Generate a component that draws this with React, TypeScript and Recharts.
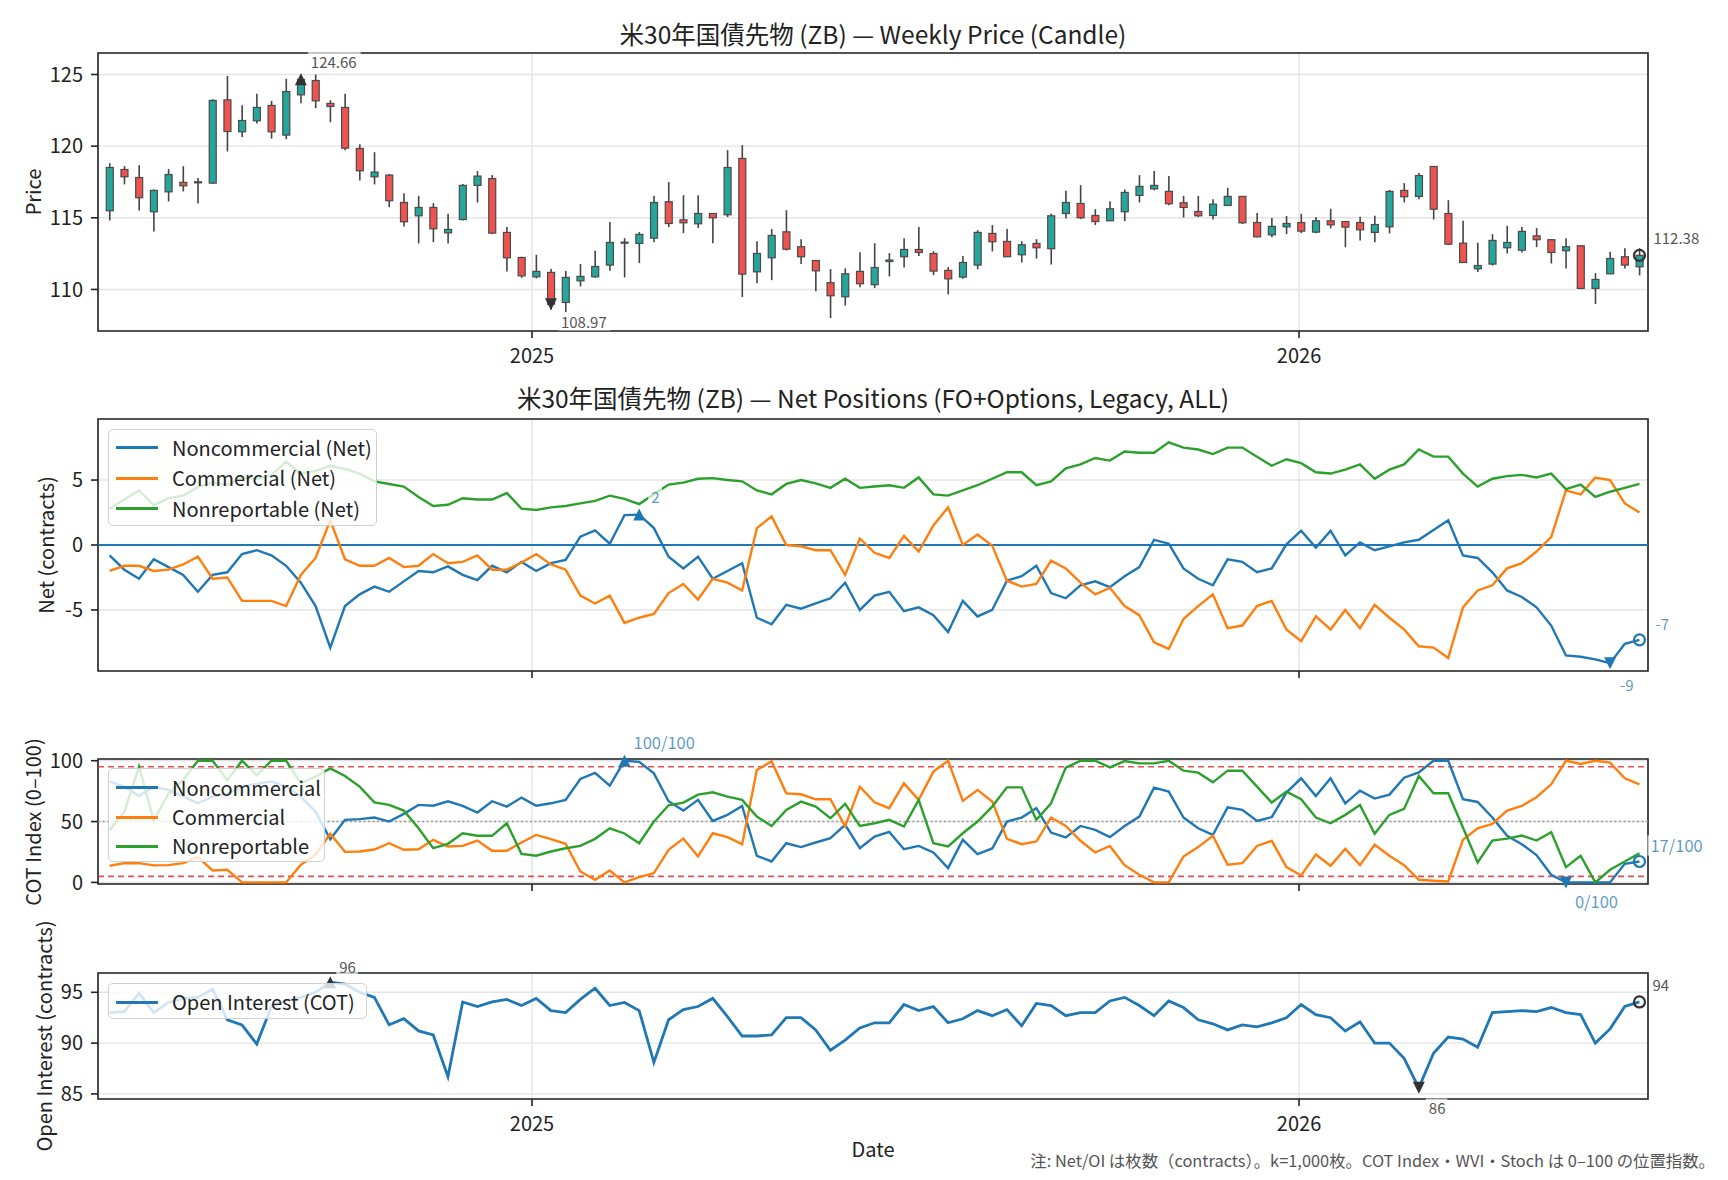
import React from "react";
import {
  ComposedChart,
  Line,
  Bar,
  XAxis,
  YAxis,
  CartesianGrid,
  ReferenceLine,
  ReferenceDot,
  ReferenceArea,
} from "recharts";

const FONT = "'Noto Sans CJK JP', 'Noto Sans', sans-serif";
const WEEK = 7 * 24 * 3600 * 1000;
const START = Date.UTC(2024, 5, 14);

// weekly OHLC
const opens = [
  115.49, 118.37, 117.81, 115.42, 116.81, 117.47, 117.47, 117.42, 123.23, 121.0,
  121.77, 122.84, 120.77, 123.58, 124.58, 122.98, 122.7, 119.84, 117.86, 117.98,
  116.07, 115.14, 115.72, 113.95, 114.88, 117.26, 117.74, 113.98, 112.23, 110.88,
  111.19, 109.09, 110.6, 110.88, 111.7, 113.23, 113.21, 113.58, 116.12, 114.86,
  114.58, 115.3, 115.21, 119.14, 111.23, 112.21, 114.02, 112.98, 112.02, 110.47,
  109.49, 111.26, 110.33, 111.95, 112.28, 112.79, 112.51, 111.33, 110.86, 111.7,
  113.91, 113.35, 112.42, 113.21, 112.84, 115.3, 116.0, 115.16, 114.79, 115.42,
  116.56, 117.02, 116.84, 116.05, 115.44, 115.16, 115.86, 116.49, 114.67, 113.81,
  114.37, 114.67, 114.0, 114.79, 114.74, 114.67, 113.98, 114.37, 116.91, 116.49,
  118.58, 115.3, 113.23, 111.44, 111.77, 112.91, 112.74, 113.74, 113.47, 112.7,
  113.05, 110.07, 111.09, 112.28, 111.58,
];
const highs = [
  118.81, 118.6, 118.67, 116.98, 118.4, 118.6, 117.77, 123.28, 124.9, 122.86,
  123.65, 123.16, 124.7, 125.0, 125.0, 123.21, 123.65, 120.14, 119.58, 118.05,
  116.72, 116.53, 116.02, 115.28, 117.35, 118.26, 117.98, 114.35, 112.28, 112.42,
  111.42, 111.3, 111.77, 112.7, 114.7, 113.58, 114.0, 116.53, 117.49, 116.58,
  116.58, 115.33, 119.72, 120.07, 113.37, 114.21, 115.53, 113.51, 112.05, 111.42,
  111.47, 112.6, 113.23, 112.53, 113.58, 114.35, 112.67, 111.56, 112.33, 114.14,
  114.49, 114.21, 113.37, 113.51, 115.3, 116.88, 117.28, 115.6, 116.16, 116.98,
  117.98, 118.26, 117.91, 116.53, 116.53, 116.3, 117.09, 116.5, 115.33, 114.98,
  115.12, 115.28, 115.05, 115.63, 114.76, 115.07, 115.14, 116.95, 117.42, 118.12,
  118.6, 116.23, 114.79, 113.26, 113.86, 114.44, 114.35, 114.28, 113.5, 113.58,
  113.07, 111.14, 112.63, 112.88, 112.88,
];
const lows = [
  114.81, 117.33, 115.51, 114.05, 116.14, 116.84, 116.0, 117.37, 119.63, 120.63,
  121.58, 120.53, 120.49, 123.0, 122.65, 121.67, 119.72, 117.6, 117.33, 115.74,
  114.4, 113.21, 113.3, 113.21, 114.81, 116.07, 113.86, 111.26, 110.81, 110.77,
  108.6, 108.4, 110.21, 110.81, 111.3, 110.84, 111.84, 113.3, 114.35, 113.93,
  114.28, 113.23, 115.05, 109.47, 110.44, 110.65, 112.72, 111.77, 109.88, 108.0,
  108.88, 110.16, 110.09, 110.91, 111.53, 112.33, 111.0, 109.65, 110.74, 111.4,
  112.65, 112.26, 111.88, 112.16, 111.74, 114.95, 114.91, 114.49, 114.77, 114.77,
  116.07, 116.93, 115.88, 115.02, 115.05, 114.88, 115.84, 114.56, 113.65, 113.65,
  113.86, 113.93, 113.93, 114.26, 112.95, 113.42, 113.3, 113.91, 116.07, 116.3,
  114.88, 113.09, 111.86, 111.21, 111.67, 112.51, 112.58, 112.95, 111.81, 111.47,
  110.02, 108.98, 111.07, 111.47, 110.98,
];
const closes = [
  118.51, 117.86, 116.4, 116.91, 118.02, 117.23, 117.51, 123.19, 121.02, 121.79,
  122.7, 121.0, 123.81, 124.66, 123.16, 122.77, 119.86, 118.28, 118.19, 116.19,
  114.72, 115.72, 114.23, 114.19, 117.26, 117.91, 113.93, 112.21, 110.95, 111.26,
  108.97, 110.84, 110.91, 111.6, 113.28, 113.3, 113.84, 116.07, 114.6, 114.65,
  115.3, 115.0, 118.51, 111.07, 112.51, 113.77, 112.81, 112.28, 111.3, 109.56,
  111.09, 110.4, 111.53, 112.05, 112.79, 112.58, 111.28, 110.74, 111.88, 113.98,
  113.33, 112.28, 113.12, 112.91, 115.14, 116.07, 115.0, 114.74, 115.63, 116.77,
  117.19, 117.26, 115.98, 115.72, 115.14, 115.95, 116.49, 114.65, 113.67, 114.4,
  114.6, 114.07, 114.79, 114.51, 114.35, 114.16, 114.53, 116.84, 116.47, 117.95,
  115.6, 113.16, 111.88, 111.67, 113.42, 113.28, 114.05, 113.47, 112.58, 112.98,
  110.07, 110.7, 112.16, 111.7, 112.38,
];

// net positions (k contracts)
const ncNet = [
  -0.8, -1.9, -2.6, -1.1, -1.7, -2.3, -3.6, -2.3, -2.1, -0.7,
  -0.4, -0.8, -1.6, -2.9, -4.7, -7.9, -4.7, -3.8, -3.2, -3.6,
  -2.8, -2.0, -2.1, -1.65, -2.3, -2.7, -1.6, -2.1, -1.3, -2.0,
  -1.4, -1.15, 0.64, 1.12, 0.1, 2.3, 2.34, 1.3, -0.9, -1.8,
  -0.9, -2.6, -2.0, -1.4, -5.6, -6.1, -4.6, -4.9, -4.5, -4.1,
  -2.9, -5.0, -3.9, -3.6, -5.1, -4.8, -5.4, -6.7, -4.3, -5.5,
  -5.0, -2.75, -2.4, -1.6, -3.7, -4.1, -3.1, -2.8, -3.25, -2.4,
  -1.7, 0.4, 0.1, -1.8, -2.6, -3.1, -1.1, -1.3, -2.1, -1.8,
  0.05, 1.1, -0.2, 1.1, -0.8, 0.2, -0.4, -0.1, 0.2, 0.4,
  1.15, 1.9, -0.8, -1.0, -2.1, -3.5, -4.0, -4.8, -6.2, -8.5,
  -8.6, -8.8, -9.1, -7.6, -7.3,
];
const cNet = [
  -2.0, -1.6, -1.6, -2.0, -1.9, -1.5, -0.9, -2.6, -2.5, -4.3,
  -4.3, -4.3, -4.7, -2.3, -1.0, 1.9, -1.1, -1.6, -1.6, -1.0,
  -1.7, -1.6, -0.7, -1.4, -1.3, -0.8, -1.9, -1.9, -1.35, -0.7,
  -1.5, -1.9, -3.9, -4.5, -3.9, -6.0, -5.6, -5.3, -3.7, -3.0,
  -4.2, -2.6, -2.9, -3.5, 1.3, 2.2, 0.0, -0.1, -0.4, -0.4,
  -2.3, 0.5, -0.6, -1.0, 0.7, -0.5, 1.5, 2.9, 0.0, 0.8,
  -0.05, -2.75, -3.2, -3.0, -1.2, -1.8, -2.9, -3.8, -3.3, -4.7,
  -5.4, -7.5, -8.0, -5.7, -4.7, -3.8, -6.4, -6.2, -4.7, -4.3,
  -6.5, -7.4, -5.5, -6.5, -5.0, -6.4, -4.6, -5.6, -6.5, -7.8,
  -7.9, -8.7, -4.8, -3.5, -3.1, -1.8, -1.4, -0.5, 0.6, 4.2,
  3.9, 5.2, 5.0, 3.2, 2.5,
];
const nrNet = [
  2.8, 3.5, 4.2, 3.05, 3.6, 3.8, 4.45, 4.8, 4.6, 5.2,
  5.1, 5.4, 6.4, 5.5, 5.7, 6.1, 5.85, 5.5, 4.9, 4.7,
  4.5, 3.7, 3.0, 3.1, 3.6, 3.5, 3.5, 4.0, 2.8, 2.7,
  2.9, 3.0, 3.2, 3.4, 3.8, 3.55, 3.15, 3.9, 4.65, 4.8,
  5.1, 5.15, 5.0, 4.9, 4.2, 3.9, 4.7, 5.0, 4.75, 4.4,
  5.1, 4.4, 4.5, 4.6, 4.4, 5.2, 3.9, 3.8, 4.2, 4.6,
  5.1, 5.6, 5.6, 4.6, 4.9, 5.9, 6.2, 6.7, 6.5, 7.2,
  7.1, 7.1, 7.9, 7.5, 7.35, 7.0, 7.5, 7.5, 6.8, 6.1,
  6.6, 6.3, 5.6, 5.5, 5.8, 6.2, 5.1, 5.8, 6.2, 7.35,
  6.8, 6.8, 5.5, 4.5, 5.1, 5.3, 5.4, 5.2, 5.5, 4.3,
  4.65, 3.7, 4.1, 4.4, 4.7,
];

// COT index 0-100
const ncIdx = [
  82.8, 78.7, 71, 78.7, 76, 70.5, 65, 70.5, 73, 78.7,
  81, 83, 78.7, 70.5, 58, 35.5, 51.4, 52, 53.3, 50,
  56.3, 63.7, 63, 66.7, 62.8, 57.4, 66.7, 62.3, 69.7, 63,
  65, 67.8, 85, 90, 79.5, 100, 99, 89.6, 66.7, 59,
  67.8, 50.5, 55.5, 62.8, 21.9, 17.2, 32.2, 29, 32.8, 36.3,
  47.3, 28.1, 37.7, 41.5, 27.3, 30, 24.6, 11.7, 35, 23.2,
  27.9, 50, 53.3, 61, 41, 36.9, 46.4, 43.2, 37.2, 46.4,
  54.1, 77.9, 74.6, 53.3, 44.5, 39, 61.7, 59.6, 50.5, 53.6,
  73.8, 85.5, 71, 85.5, 65, 75.4, 68.9, 72.1, 86, 90.4,
  100, 100, 68.3, 66.1, 53.3, 38.3, 31.4, 22.4, 6.3, 0,
  0, 0, 0, 15.3, 17.2,
];
const cIdx = [
  13.7, 15.8, 15.8, 14, 14.2, 15.8, 20.8, 9.8, 10.4, 0,
  0, 0, 0, 14.5, 22.7, 40, 25.1, 25.4, 27, 32.2,
  26.8, 27.3, 35, 29.5, 30, 34.4, 26, 26, 32.8, 39,
  35.5, 31.7, 9, 2.2, 9.8, 0, 4.4, 7.7, 26.8, 36,
  21.3, 40.4, 37.2, 31.4, 92.3, 99.5, 73.2, 72.4, 68.3, 68.3,
  46, 78.7, 65.8, 61, 81.4, 67.8, 91, 100, 67, 76,
  66.4, 35.8, 31.4, 33.6, 53.3, 46.4, 34.2, 24.6, 30, 14.2,
  6.3, 0, 0, 21.3, 29, 38.3, 14.5, 15.8, 30, 34.2,
  12.6, 5.7, 23, 13.7, 27.6, 14.2, 30.9, 21.9, 14.2, 2.2,
  1.4, 0.8, 35, 44.5, 48, 59, 62.8, 70, 80.6, 100,
  97.3, 100, 98.4, 85.5, 80.6,
];
const nrIdx = [
  43, 58, 95, 51, 73, 84, 100, 100, 84, 100,
  88, 100, 100, 81.4, 87, 93.7, 87.4, 78.7, 65.8, 63.7,
  59, 44.5, 28.1, 31.7, 40.4, 38.3, 38.3, 48.6, 23.5, 21.9,
  25.4, 28.1, 30, 35.8, 44.5, 40.2, 32.2, 50, 63.4, 65.6,
  72.1, 74, 70.5, 67.8, 54.1, 46.4, 59.6, 66.4, 62.3, 52.7,
  64.5, 46.4, 48.6, 51.4, 45.9, 67.8, 32.2, 29.5, 40.4, 50,
  62.3, 78.1, 78.1, 51.4, 65, 94.3, 100, 100, 94.5, 99.7,
  97.8, 97.8, 100, 91.8, 90.2, 82.2, 91.8, 91.8, 78.7, 65.6,
  74.6, 68.3, 53.3, 48.6, 55.5, 63.7, 39.9, 55.5, 60.4, 87.4,
  73.2, 73.2, 45.1, 16.4, 34.4, 36, 38.5, 34.4, 41.3, 12.6,
  21.9, 0, 10.4, 17.2, 24,
];

// open interest (k contracts)
const openInterest = [
  93.0, 93.1, 94.9, 93.0, 94.0, 94.4, 94.5, 95.3, 92.3, 91.8,
  89.9, 93.6, 94.2, 94.5, 95.0, 96.0, 95.8, 95.0, 94.5, 91.8,
  92.4, 91.2, 90.8, 86.7, 94.05, 93.6, 94.05, 94.3, 93.7, 94.4,
  93.2, 93.0, 94.3, 95.4, 93.7, 94.0, 93.2, 88.1, 92.3, 93.3,
  93.6, 94.4, 92.6, 90.7, 90.7, 90.8, 92.5, 92.5, 91.3, 89.3,
  90.3, 91.5, 92.0, 92.0, 93.8, 93.2, 93.6, 92.0, 92.4, 93.2,
  92.7, 93.3, 91.7, 93.9, 93.7, 92.7, 93.0, 93.0, 94.15, 94.5,
  93.7, 92.7, 94.15, 93.5, 92.3, 91.9, 91.3, 91.8, 91.6, 92.0,
  92.5, 93.8, 92.8, 92.5, 91.2, 92.1, 90.0, 90.0, 88.5, 85.6,
  89.0, 90.6, 90.4, 89.6, 93.0, 93.1, 93.2, 93.1, 93.5, 93.0,
  92.8, 90.0, 91.4, 93.6, 94.05,
];

const yearTicks = [Date.UTC(2025, 0, 1), Date.UTC(2026, 0, 1)];
const priceTicks = [110, 115, 120, 125];
const netTicks = [-5, 0, 5];
const idxTicks = [0, 50, 100];
const oiTicks = [85, 90, 95];

const BLUE = "#1f77b4";
const ORANGE = "#ff7f0e";
const GREEN = "#2ca02c";
const UP = "#26a69a";
const DOWN = "#ef5350";

const W = 1728;
const PLOT_L = 98;
const PLOT_R = 1648;
const MT = 30;
const XH = 50;
const X_DOMAIN: [number, number] = [START - 0.79 * WEEK, START + 104.58 * WEEK];

const rows = closes.map((c, i) => ({
  t: START + i * WEEK,
  open: opens[i],
  high: highs[i],
  low: lows[i],
  close: c,
  range: [lows[i], highs[i]],
  nc: ncNet[i],
  cm: cNet[i],
  nr: nrNet[i],
  ncI: ncIdx[i],
  cmI: cIdx[i],
  nrI: nrIdx[i],
  oi: openInterest[i],
}));

const argMax = (a: number[]) => a.indexOf(Math.max(...a));
const argMin = (a: number[]) => a.indexOf(Math.min(...a));
const LAST = closes.length - 1;

const Candle = (p: any) => {
  const { x, y, width, height, payload } = p;
  if (x == null || y == null || !payload) return null;
  const top = Math.min(y, y + height);
  const bot = Math.max(y, y + height);
  const ppu = (bot - top) / (payload.high - payload.low || 1);
  const py = (v: number) => top + (payload.high - v) * ppu;
  const cx = x + width / 2;
  const up = payload.close >= payload.open;
  const bt = py(Math.max(payload.open, payload.close));
  const bb = py(Math.min(payload.open, payload.close));
  return (
    <g>
      <line x1={cx} x2={cx} y1={top} y2={bot} stroke="#444" strokeWidth={1.6} />
      <rect x={x} y={bt} width={width} height={Math.max(bb - bt, 1)} fill={up ? UP : DOWN} stroke="#4a4a4a" strokeWidth={1.2} />
    </g>
  );
};

type Mk = {
  kind: "up" | "down" | "circle";
  color: string;
  text: string;
  dx: number;
  dy: number;
  tc: string;
  fs: number;
};
const markShape = (m: Mk) => (p: any) => {
  const { cx, cy } = p;
  if (cx == null || cy == null) return <g />;
  const s = 6;
  let marker: React.ReactNode;
  if (m.kind === "up")
    marker = <polygon points={`${cx},${cy - s} ${cx - s},${cy + s} ${cx + s},${cy + s}`} fill={m.color} />;
  else if (m.kind === "down")
    marker = <polygon points={`${cx},${cy + s} ${cx - s},${cy - s} ${cx + s},${cy - s}`} fill={m.color} />;
  else marker = <circle cx={cx} cy={cy} r={5.5} fill="none" stroke={m.color} strokeWidth={2.2} />;
  const tw = m.text.length * m.fs * 0.52 + 6;
  return (
    <g>
      {marker}
      <rect x={cx + m.dx - 3} y={cy + m.dy - m.fs * 0.62} width={tw} height={m.fs * 1.24} fill="#fff" fillOpacity={0.7} />
      <text x={cx + m.dx} y={cy + m.dy} dominantBaseline="central" fontSize={m.fs} fill={m.tc} fontFamily={FONT}>
        {m.text}
      </text>
    </g>
  );
};

const tickStyle = { fontSize: 20, fill: "#222", fontFamily: FONT };

function panel(
  top: number,
  bottom: number,
  yDomain: [number, number],
  yTicks: number[],
  xLabels: boolean,
  content: React.ReactNode[]
) {
  const h = bottom - top;
  return (
    <div style={{ position: "absolute", left: 0, top: top - MT }}>
      <ComposedChart
        width={W}
        height={h + MT + XH}
        data={rows}
        margin={{ top: MT, right: W - PLOT_R, bottom: 0, left: 0 }}
      >
        <CartesianGrid stroke="#e4e4e4" strokeWidth={1.4} />
        <XAxis
          dataKey="t"
          type="number"
          domain={X_DOMAIN}
          allowDataOverflow
          ticks={yearTicks}
          interval={0}
          height={XH}
          tickSize={7}
          tickMargin={11}
          axisLine={false}
          tickLine={{ stroke: "#222", strokeWidth: 1.6 }}
          tick={tickStyle}
          tickFormatter={(v: number) => (xLabels ? String(new Date(v).getUTCFullYear()) : "")}
        />
        <YAxis
          type="number"
          domain={yDomain}
          allowDataOverflow
          ticks={yTicks}
          interval={0}
          width={PLOT_L}
          tickSize={7}
          tickMargin={8}
          axisLine={false}
          tickLine={{ stroke: "#222", strokeWidth: 1.6 }}
          tick={tickStyle}
        />
        {content}
        <ReferenceArea
          x1={X_DOMAIN[0]}
          x2={X_DOMAIN[1]}
          y1={yDomain[0]}
          y2={yDomain[1]}
          fill="none"
          fillOpacity={0}
          stroke="#222"
          strokeWidth={1.6}
          ifOverflow="visible"
        />
      </ComposedChart>
    </div>
  );
}

const dot = (key: string, i: number, v: number, m: Mk) => (
  <ReferenceDot key={key} x={rows[i].t} y={v} r={6} ifOverflow="visible" shape={markShape(m)} />
);

const LegendBox = ({
  left,
  top,
  width,
  height,
  items,
  rowY,
}: {
  left: number;
  top: number;
  width: number;
  height: number;
  items: { label: string; color: string }[];
  rowY: number[];
}) => (
  <div
    style={{
      position: "absolute",
      left,
      top,
      width,
      height,
      boxSizing: "border-box",
      border: "1.5px solid #d0d0d0",
      borderRadius: 5,
      background: "rgba(255,255,255,0.8)",
    }}
  >
    {items.map((it, k) => (
      <React.Fragment key={it.label}>
        <div style={{ position: "absolute", left: 7, top: rowY[k] - 1.5, width: 42, height: 3, background: it.color }} />
        <div
          style={{
            position: "absolute",
            left: 63,
            top: rowY[k],
            transform: "translateY(-50%)",
            fontSize: 20,
            lineHeight: "24px",
            color: "#222",
            whiteSpace: "nowrap",
          }}
        >
          {it.label}
        </div>
      </React.Fragment>
    ))}
  </div>
);

const Txt = ({ x, y, size, children, rotate, color }: any) => (
  <div
    style={{
      position: "absolute",
      left: x,
      top: y,
      transform: `translate(-50%, -50%)${rotate ? " rotate(-90deg)" : ""}`,
      fontSize: size,
      color: color || "#222",
      whiteSpace: "nowrap",
      lineHeight: 1.2,
    }}
  >
    {children}
  </div>
);

export default function App() {
  const pMax = argMax(closes);
  const pMin = argMin(closes);
  const nMax = argMax(ncNet);
  const nMin = argMin(ncNet);
  const iMax = argMax(ncIdx);
  const iMin = argMin(ncIdx);
  const oMax = argMax(openInterest);
  const oMin = argMin(openInterest);
  const lblBlue = "rgba(31,119,180,0.75)";

  return (
    <div
      style={{
        position: "absolute",
        left: 0,
        top: 0,
        width: W,
        height: 1180,
        background: "#fff",
        fontFamily: FONT,
        overflow: "hidden",
      }}
    >
      {panel(53, 331, [107.1, 126.5], priceTicks, true, [
        <Bar key="candles" dataKey="range" barSize={7} isAnimationActive={false} shape={(p: any) => <Candle {...p} />} />,
        dot("pmax", pMax, closes[pMax], { kind: "up", color: "#333", text: closes[pMax].toFixed(2), dx: 10, dy: -18, tc: "#555", fs: 15 }),
        dot("pmin", pMin, closes[pMin], { kind: "down", color: "#333", text: closes[pMin].toFixed(2), dx: 10, dy: 17, tc: "#555", fs: 15 }),
        dot("plast", LAST, closes[LAST], { kind: "circle", color: "#333", text: closes[LAST].toFixed(2), dx: 14, dy: -18, tc: "#555", fs: 15 }),
      ])}

      {panel(419, 671, [-9.7, 9.7], netTicks, false, [
        <ReferenceLine key="zero" y={0} stroke={BLUE} strokeWidth={2} />,
        <Line key="nc" dataKey="nc" stroke={BLUE} strokeWidth={2.4} dot={false} isAnimationActive={false} />,
        <Line key="cm" dataKey="cm" stroke={ORANGE} strokeWidth={2.4} dot={false} isAnimationActive={false} />,
        <Line key="nr" dataKey="nr" stroke={GREEN} strokeWidth={2.4} dot={false} isAnimationActive={false} />,
        dot("nmax", nMax, ncNet[nMax], { kind: "up", color: BLUE, text: String(Math.round(ncNet[nMax])), dx: 12, dy: -18, tc: lblBlue, fs: 15 }),
        dot("nmin", nMin, ncNet[nMin], { kind: "down", color: BLUE, text: String(Math.round(ncNet[nMin])), dx: 10, dy: 21, tc: lblBlue, fs: 15 }),
        dot("nlast", LAST, ncNet[LAST], { kind: "circle", color: BLUE, text: String(Math.round(ncNet[LAST])), dx: 16, dy: -16, tc: lblBlue, fs: 15 }),
      ])}

      {panel(759, 884, [-1.3, 101.4], idxTicks, false, [
        <ReferenceLine key="hi" y={95} stroke="#d62728" strokeOpacity={0.8} strokeWidth={1.6} strokeDasharray="6 4" />,
        <ReferenceLine key="lo" y={5} stroke="#d62728" strokeOpacity={0.8} strokeWidth={1.6} strokeDasharray="6 4" />,
        <ReferenceLine key="mid" y={50} stroke="#999" strokeWidth={1.6} strokeDasharray="2 2.5" />,
        <Line key="ncI" dataKey="ncI" stroke={BLUE} strokeWidth={2.4} dot={false} isAnimationActive={false} />,
        <Line key="cmI" dataKey="cmI" stroke={ORANGE} strokeWidth={2.4} dot={false} isAnimationActive={false} />,
        <Line key="nrI" dataKey="nrI" stroke={GREEN} strokeWidth={2.4} dot={false} isAnimationActive={false} />,
        dot("imax", iMax, ncIdx[iMax], { kind: "up", color: BLUE, text: `${Math.round(ncIdx[iMax])}/100`, dx: 9, dy: -19, tc: lblBlue, fs: 16.5 }),
        dot("imin", iMin, ncIdx[iMin], { kind: "down", color: BLUE, text: `${Math.round(ncIdx[iMin])}/100`, dx: 9, dy: 19, tc: lblBlue, fs: 16.5 }),
        dot("ilast", LAST, ncIdx[LAST], { kind: "circle", color: BLUE, text: `${Math.round(ncIdx[LAST])}/100`, dx: 11, dy: -16, tc: lblBlue, fs: 16.5 }),
      ])}

      {panel(973, 1099, [84.5, 96.9], oiTicks, true, [
        <Line key="oi" dataKey="oi" stroke={BLUE} strokeWidth={2.8} dot={false} isAnimationActive={false} />,
        dot("omax", oMax, openInterest[oMax], { kind: "up", color: "#333", text: String(Math.round(openInterest[oMax])), dx: 9, dy: -16, tc: "#555", fs: 15 }),
        dot("omin", oMin, openInterest[oMin], { kind: "down", color: "#333", text: String(Math.round(openInterest[oMin])), dx: 10, dy: 20, tc: "#555", fs: 15 }),
        dot("olast", LAST, openInterest[LAST], { kind: "circle", color: "#333", text: String(Math.round(openInterest[LAST])), dx: 13, dy: -17, tc: "#555", fs: 15 }),
      ])}

      <LegendBox
        left={108}
        top={429}
        width={269}
        height={97}
        rowY={[17.7, 48.3, 78.7]}
        items={[
          { label: "Noncommercial (Net)", color: BLUE },
          { label: "Commercial (Net)", color: ORANGE },
          { label: "Nonreportable (Net)", color: GREEN },
        ]}
      />
      <LegendBox
        left={108}
        top={768}
        width={217}
        height={94}
        rowY={[18.7, 48, 77]}
        items={[
          { label: "Noncommercial", color: BLUE },
          { label: "Commercial", color: ORANGE },
          { label: "Nonreportable", color: GREEN },
        ]}
      />
      <LegendBox
        left={108}
        top={983}
        width={259}
        height={36}
        rowY={[18]}
        items={[{ label: "Open Interest (COT)", color: BLUE }]}
      />

      <Txt x={873} y={34} size={24.5}>米30年国債先物 (ZB) — Weekly Price (Candle)</Txt>
      <Txt x={873} y={398} size={24.5}>米30年国債先物 (ZB) — Net Positions (FO+Options, Legacy, ALL)</Txt>
      <Txt x={33} y={192} size={20} rotate>Price</Txt>
      <Txt x={46} y={545} size={20} rotate>Net (contracts)</Txt>
      <Txt x={33} y={822} size={20} rotate>COT Index (0–100)</Txt>
      <Txt x={44} y={1036} size={20} rotate>Open Interest (contracts)</Txt>
      <Txt x={873} y={1149} size={20}>Date</Txt>
      <div
        style={{
          position: "absolute",
          right: 13,
          top: 1160,
          transform: "translateY(-50%)",
          fontSize: 16.4,
          color: "#555",
          whiteSpace: "nowrap",
        }}
      >
        注: Net/OI は枚数（contracts）。k=1,000枚。COT Index・WVI・Stoch は 0–100 の位置指数。
      </div>
    </div>
  );
}
